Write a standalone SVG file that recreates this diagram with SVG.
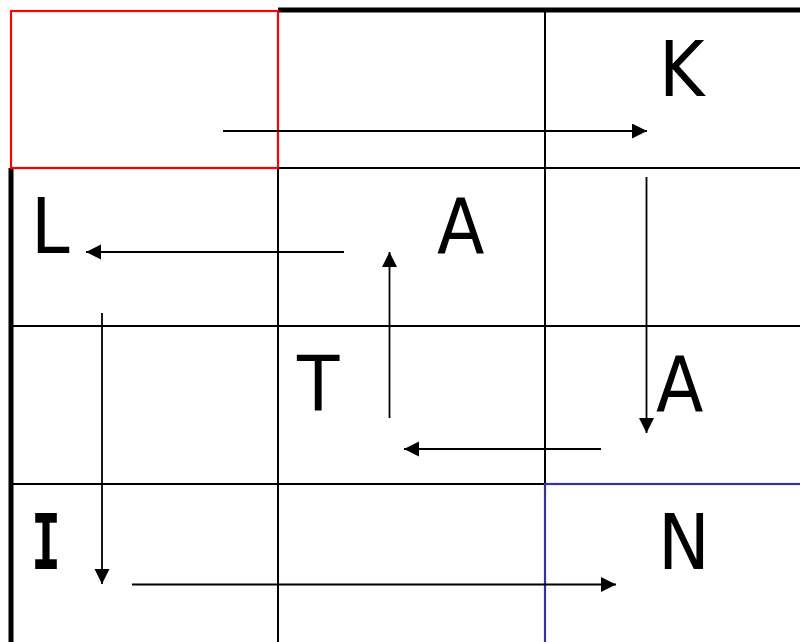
<svg xmlns="http://www.w3.org/2000/svg" width="800" height="642" viewBox="0 0 800 642">
<style>
.grid{stroke:#000;stroke-width:2;fill:none}
.thick{stroke:#000;stroke-width:5;fill:none}
.arr{stroke:#000;stroke-width:1.8;fill:none;marker-end:url(#ah)}
.lt{font-family:"DejaVu Sans Condensed","DejaVu Sans",sans-serif;font-size:77px;fill:#000}
.lm{font-family:"DejaVu Sans Mono","Liberation Mono",monospace;font-size:77px;font-weight:bold;fill:#000}
</style>
<defs>
<marker id="ah" markerUnits="userSpaceOnUse" markerWidth="16" markerHeight="16" refX="15" refY="7.5" orient="auto">
<path d="M0,0 L15,7.5 L0,15 z" fill="#000"/>
</marker>
</defs>
<rect width="800" height="642" fill="#fff"/>
<g id="grid">
<line class="grid" x1="278" y1="11" x2="278" y2="642"/>
<line class="grid" x1="545" y1="11" x2="545" y2="484"/>
<line class="grid" x1="11" y1="168" x2="800" y2="168"/>
<line class="grid" x1="11" y1="326" x2="800" y2="326"/>
<line class="grid" x1="11" y1="484" x2="545" y2="484"/>
<line class="thick" x1="278" y1="10" x2="800" y2="10"/>
<line class="thick" x1="11" y1="168" x2="11" y2="642"/>
</g>
<g id="start"><rect x="11" y="11" width="267" height="157" fill="none" stroke="#ff0000" stroke-width="2.2"/></g>
<g id="end"><rect x="545" y="484" width="260" height="170" fill="none" stroke="#3333a0" stroke-width="2.2"/></g>
<g id="K"><text class="lt" x="659" y="96">K</text></g>
<g id="A1"><text class="lt" x="437" y="253">A</text></g>
<g id="L"><text class="lt" x="31" y="253">L</text></g>
<g id="T"><text class="lt" x="297" y="411">T</text></g>
<g id="A2"><text class="lt" x="656" y="411">A</text></g>
<g id="I"><text class="lm" x="31" y="569" textLength="30" lengthAdjust="spacingAndGlyphs">I</text></g>
<g id="N"><text class="lt" x="658" y="569">N</text></g>
<g id="connectors">
<line class="arr" x1="223" y1="131" x2="647" y2="131"/>
<line class="arr" x1="646.5" y1="177" x2="646.5" y2="433"/>
<line class="arr" x1="601" y1="449" x2="404" y2="449"/>
<line class="arr" x1="389.5" y1="418" x2="389.5" y2="252"/>
<line class="arr" x1="344" y1="252" x2="86" y2="252"/>
<line class="arr" x1="102" y1="313" x2="102" y2="584"/>
<line class="arr" x1="132" y1="584.5" x2="616" y2="584.5"/>
</g>
</svg>
